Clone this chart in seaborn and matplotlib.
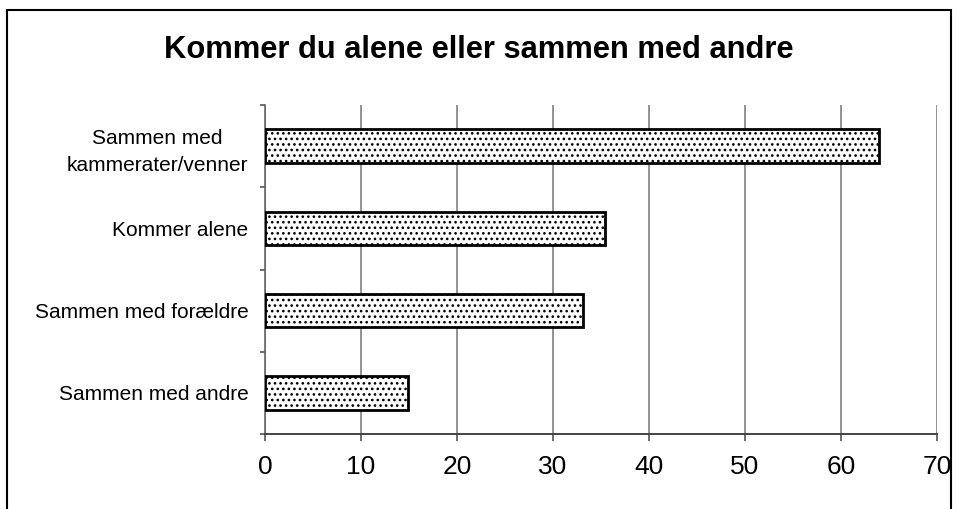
import matplotlib
matplotlib.use("Agg")
import matplotlib.pyplot as plt
import seaborn as sns
import pandas as pd
from matplotlib.patches import Rectangle
from matplotlib.ticker import FixedLocator

categories = ["Sammen med\nkammerater/venner", "Kommer alene", "Sammen med forældre", "Sammen med andre"]
values = [64.0, 35.4, 33.1, 14.9]
xticks = [0, 10, 20, 30, 40, 50, 60, 70]

sns.set_theme(style="white")
plt.rcParams['font.family'] = ['Liberation Sans', 'DejaVu Sans']
plt.rcParams['text.color'] = 'black'
plt.rcParams['xtick.color'] = 'black'
plt.rcParams['ytick.color'] = 'black'
plt.rcParams['hatch.linewidth'] = 1.1
plt.rcParams['hatch.color'] = '#303030'

df = pd.DataFrame({"cat": categories, "val": values})

fig = plt.figure(figsize=(9.58, 5.09), dpi=100)
ax = fig.add_axes([265/958, 1 - 434/509, (937-265)/958, (434-105)/509])

sns.barplot(data=df, y="cat", x="val", orient="h", ax=ax, color="white",
            edgecolor="black", linewidth=2, width=0.41, saturation=1)
for p in ax.patches:
    p.set_hatch("...")
    p.set_zorder(3)

ax.set_xlim(0, 70)
ax.set_ylim(3.5, -0.5)
ax.set_xticks(xticks)
ax.set_xticklabels([str(t) for t in xticks], fontsize=19)
ax.set_xlabel("")
ax.set_ylabel("")
ax.grid(axis="x", color="#808080", linewidth=1.2, zorder=0)
ax.set_axisbelow(True)
ax.tick_params(axis="x", which="major", direction="out", length=5, width=1.2,
               color="#555555", labelcolor="black", pad=10, bottom=True)
ax.tick_params(axis="y", which="major", length=0, pad=12, labelsize=15, labelcolor="black")
ax.yaxis.set_minor_locator(FixedLocator([-0.5, 0.5, 1.5, 2.5, 3.5]))
ax.tick_params(axis="y", which="minor", direction="out", length=3.6, width=1.2,
               color="#555555", left=True)
for lab in ax.get_yticklabels():
    lab.set_multialignment("center")
    lab.set_linespacing(1.5)
for s in ["top", "right"]:
    ax.spines[s].set_visible(False)
ax.spines["left"].set_color("#666666")
ax.spines["left"].set_linewidth(1.2)
ax.spines["bottom"].set_color("#444444")
ax.spines["bottom"].set_linewidth(1.4)

fig.text(0.5, 1 - 50/509, "Kommer du alene eller sammen med andre", ha="center", va="center",
         fontsize=22.2, fontweight="bold", color="black")

fig.patches.append(Rectangle((7/958, -0.01), (951-7)/958, 1 - 10/509 + 0.01, transform=fig.transFigure,
                             fill=False, edgecolor="black", linewidth=1.5))

fig.savefig("out.png", dpi=100)
